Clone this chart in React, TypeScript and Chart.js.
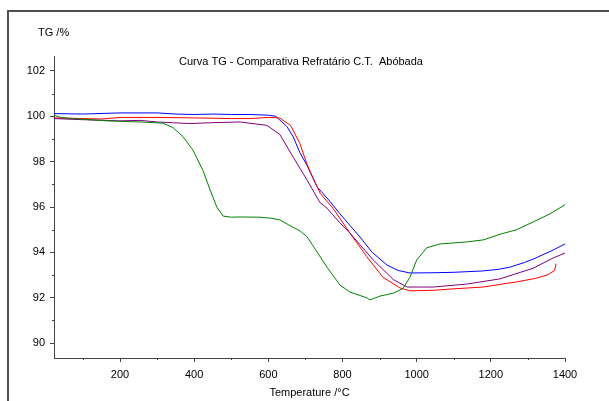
import React, { useEffect, useRef } from "react";
import { Chart, registerables } from "chart.js";

Chart.register(...registerables);

// ---- data (temperature °C, TG %) ----
const blueT = [22, 100, 200, 300, 350, 400, 450, 500, 550, 600, 620, 650, 667, 685, 704, 731, 766, 793, 847, 880, 920, 950, 982, 1044, 1100, 1179, 1220, 1252, 1290, 1314, 1368, 1400];
const blueV = [100.12, 100.1, 100.15, 100.15, 100.1, 100.08, 100.1, 100.08, 100.08, 100.05, 100.0, 99.55, 99.1, 98.4, 97.85, 96.9, 96.25, 95.7, 94.68, 94.0, 93.44, 93.2, 93.09, 93.1, 93.12, 93.18, 93.25, 93.35, 93.55, 93.7, 94.1, 94.37];

const redT = [22, 100, 150, 200, 300, 400, 500, 550, 600, 630, 660, 685, 704, 720, 740, 774, 820, 866, 909, 955, 982, 1050, 1090, 1179, 1230, 1271, 1320, 1352, 1372, 1376];
const redV = [99.93, 99.9, 99.88, 99.95, 99.95, 99.93, 99.9, 99.9, 99.95, 99.93, 99.6, 98.8, 97.9, 97.3, 96.6, 95.95, 94.85, 93.8, 92.9, 92.43, 92.3, 92.33, 92.38, 92.47, 92.6, 92.7, 92.85, 93.0, 93.2, 93.5];

const purpleT = [22, 100, 200, 254, 300, 389, 450, 524, 596, 631, 667, 704, 739, 758, 793, 820, 883, 937, 974, 1044, 1135, 1225, 1314, 1368, 1400];
const purpleV = [99.9, 99.85, 99.8, 99.82, 99.75, 99.68, 99.72, 99.75, 99.6, 99.2, 98.2, 97.2, 96.2, 95.95, 95.3, 94.85, 93.66, 92.8, 92.47, 92.47, 92.6, 92.83, 93.3, 93.75, 93.97];

const greenT = [22, 40, 73, 165, 254, 316, 343, 370, 397, 424, 443, 461, 478, 500, 524, 578, 610, 631, 667, 685, 704, 720, 758, 793, 820, 866, 874, 901, 937, 963, 982, 1000, 1027, 1063, 1135, 1180, 1225, 1270, 1314, 1360, 1400];
const greenV = [100.05, 99.95, 99.9, 99.8, 99.75, 99.7, 99.5, 99.1, 98.5, 97.6, 96.75, 96.0, 95.6, 95.55, 95.56, 95.55, 95.5, 95.43, 95.1, 94.95, 94.7, 94.3, 93.35, 92.56, 92.25, 91.99, 91.9, 92.07, 92.2, 92.4, 92.9, 93.66, 94.2, 94.37, 94.46, 94.55, 94.8, 95.0, 95.34, 95.7, 96.1];

const xTicks = [200, 400, 600, 800, 1000, 1200, 1400];
const xMinor = [100, 300, 500, 700, 900, 1100, 1300];
const yTicks = [90, 92, 94, 96, 98, 100, 102];
const yMinor = [91, 93, 95, 97, 99, 101];

const xMin = 22;
const xMax = 1400;
const yMin = 89.34;
const yMax = 102.66;

const chartTitle = "Curva TG - Comparativa Refratário C.T.  Abóbada";
const yTitle = "TG /%";
const xTitle = "Temperature /°C";

const FONT = "'Liberation Sans', Arial, sans-serif";
const AXIS = "#444444";

const pts = (t: number[], v: number[]) => t.map((x, i) => ({ x, y: v[i] }));

const extrasPlugin = {
  id: "extras",
  afterDraw(chart: any) {
    const ctx = chart.ctx;
    const xs = chart.scales.x;
    const ys = chart.scales.y;
    const area = chart.chartArea;
    ctx.save();
    ctx.strokeStyle = AXIS;
    ctx.lineWidth = 1;
    ctx.beginPath();
    xMinor.forEach((v) => {
      const px = Math.round(xs.getPixelForValue(v)) + 0.5;
      ctx.moveTo(px, area.bottom);
      ctx.lineTo(px, area.bottom + 2);
    });
    yMinor.forEach((v) => {
      const py = Math.round(ys.getPixelForValue(v)) + 0.5;
      ctx.moveTo(area.left, py);
      ctx.lineTo(area.left - 2, py);
    });
    ctx.stroke();
    ctx.fillStyle = "#000";
    ctx.font = `11px ${FONT}`;
    ctx.textBaseline = "middle";
    ctx.textAlign = "center";
    ctx.fillText(chartTitle, 301, 62);
    ctx.textAlign = "left";
    ctx.fillText(yTitle, 38, 33);
    ctx.restore();
  },
};

export default function App() {
  const ref = useRef<HTMLCanvasElement | null>(null);

  useEffect(() => {
    if (!ref.current) return;
    const mk = (label: string, t: number[], v: number[], color: string) => ({
      label,
      data: pts(t, v),
      borderColor: color,
      backgroundColor: color,
      borderWidth: 1,
      pointRadius: 0,
      tension: 0,
      fill: false,
    });
    const chart = new Chart(ref.current, {
      type: "line",
      data: {
        datasets: [
          mk("green", greenT, greenV, "#008000"),
          mk("purple", purpleT, purpleV, "#800080"),
          mk("red", redT, redV, "#ff0000"),
          mk("blue", blueT, blueV, "#0000ff"),
        ],
      },
      options: {
        animation: false,
        responsive: false,
        maintainAspectRatio: false,
        layout: { padding: { top: 56, right: 44, bottom: 0, left: 0 } },
        plugins: {
          legend: { display: false },
          tooltip: { enabled: false },
          title: { display: false },
        },
        scales: {
          x: {
            type: "linear",
            min: xMin,
            max: xMax,
            afterBuildTicks: (s: any) => {
              s.ticks = xTicks.map((value) => ({ value }));
            },
            afterFit: (s: any) => {
              s.height = 43;
            },
            ticks: {
              color: "#000",
              font: { family: FONT, size: 11 },
              padding: 6,
              maxRotation: 0,
              autoSkip: false,
              callback: (v: any) => String(v),
            },
            grid: {
              display: true,
              drawOnChartArea: false,
              drawTicks: true,
              tickLength: 4,
              color: AXIS,
            },
            border: { display: true, color: AXIS, width: 1 },
            title: {
              display: true,
              text: xTitle,
              color: "#000",
              font: { family: FONT, size: 11 },
              padding: { top: 0, bottom: 1 },
            },
          },
          y: {
            type: "linear",
            min: yMin,
            max: yMax,
            afterBuildTicks: (s: any) => {
              s.ticks = yTicks.map((value) => ({ value }));
            },
            afterFit: (s: any) => {
              s.width = 54;
            },
            ticks: {
              color: "#000",
              font: { family: FONT, size: 11 },
              padding: 5,
              autoSkip: false,
              callback: (v: any) => String(v),
            },
            grid: {
              display: true,
              drawOnChartArea: false,
              drawTicks: true,
              tickLength: 4,
              color: AXIS,
            },
            border: { display: true, color: AXIS, width: 1 },
          },
        },
      },
      plugins: [extrasPlugin],
    } as any);
    return () => chart.destroy();
  }, []);

  return (
    <div>
      <canvas
        ref={ref}
        width={609}
        height={401}
        style={{ position: "fixed", left: 0, top: 0, width: 609, height: 401, background: "#fff" }}
      />
      <div
        style={{
          position: "fixed",
          left: 7,
          top: 10,
          width: 602,
          height: 391,
          borderTop: "2px solid #505050",
          borderLeft: "2px solid #505050",
          boxSizing: "border-box",
          pointerEvents: "none",
        }}
      />
    </div>
  );
}
